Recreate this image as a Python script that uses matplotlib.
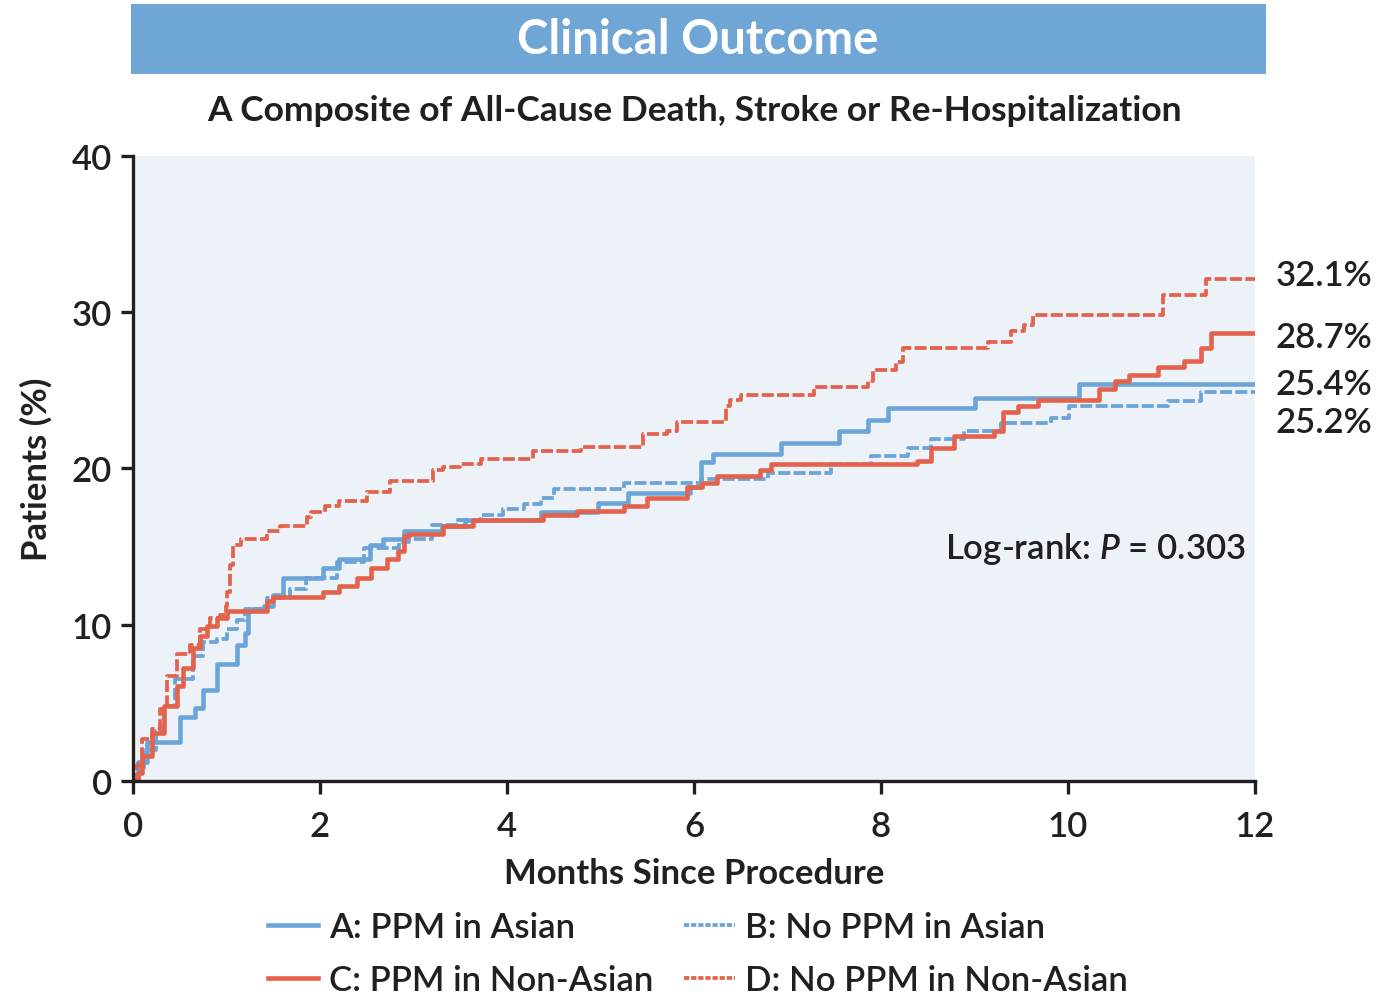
import matplotlib
matplotlib.use("Agg")
import matplotlib.pyplot as plt
from matplotlib.patches import Rectangle
from matplotlib.lines import Line2D

plt.rcParams['font.family'] = ['Lato', 'DejaVu Sans']
plt.rcParams['font.weight'] = 'semibold'
plt.rcParams['mathtext.fontset'] = 'custom'
plt.rcParams['mathtext.rm'] = 'Lato:semibold'
plt.rcParams['mathtext.it'] = 'Lato:italic:semibold'

# cumulative incidence (%), step changes at these months
a_months = [0, 0.05, 0.15, 0.5, 0.66, 0.75, 0.9, 1.11, 1.2, 1.23, 1.4, 1.5, 1.6, 2.03, 2.2, 2.54, 2.67,
            2.9, 3.3, 3.55, 4.36, 4.97, 5.29, 5.96, 6.07, 6.2, 6.93, 7.55, 7.86, 8.08, 9.01, 10.12, 12]
a_pct = [0, 1.2, 2.5, 4.1, 4.7, 5.8, 7.5, 8.7, 9.5, 11.0, 11.2, 11.9, 13.0, 13.6, 14.2, 15.1, 15.5,
         16.0, 16.3, 16.7, 17.2, 17.8, 18.4, 18.8, 20.4, 20.9, 21.6, 22.4, 23.1, 23.9, 24.5, 25.4, 25.4]

b_months = [0, 0.05, 0.12, 0.25, 0.33, 0.45, 0.64, 0.75, 0.9, 1.0, 1.11, 1.2, 1.43, 1.68, 1.85, 2.18,
            2.47, 2.85, 2.95, 3.2, 3.45, 3.72, 3.96, 4.18, 4.36, 4.5, 5.25, 6.07, 6.79, 7.46, 7.89,
            8.29, 8.53, 8.89, 9.28, 9.82, 10.01, 11.07, 11.42, 12]
b_pct = [0, 0.8, 2.0, 3.2, 4.8, 6.5, 8.0, 8.9, 9.1, 9.7, 10.3, 11.0, 11.7, 12.3, 13.0, 14.0,
         14.9, 15.3, 15.5, 16.4, 16.7, 17.0, 17.4, 17.7, 18.1, 18.7, 19.1, 19.3, 19.7, 20.3, 20.8,
         21.3, 21.9, 22.4, 22.9, 23.2, 24.0, 24.3, 24.9, 24.9]

c_months = [0, 0.05, 0.1, 0.2, 0.33, 0.47, 0.53, 0.64, 0.72, 0.79, 0.9, 1.0, 1.43, 1.5, 2.03, 2.2,
            2.4, 2.55, 2.72, 2.83, 2.9, 2.95, 3.32, 3.64, 4.39, 4.75, 5.25, 5.5, 5.93, 6.09, 6.25,
            6.71, 6.82, 8.39, 8.53, 8.78, 9.21, 9.31, 9.46, 9.68, 10.33, 10.5, 10.65, 10.96, 11.24,
            11.42, 11.53, 12]
c_pct = [0, 0.5, 1.6, 3.1, 4.8, 6.1, 7.2, 8.5, 9.3, 9.9, 10.4, 10.9, 11.5, 11.8, 12.1, 12.5,
         13.0, 13.6, 14.2, 14.7, 15.7, 15.8, 16.3, 16.7, 17.0, 17.3, 17.6, 18.1, 18.8, 19.1, 19.5,
         19.9, 20.3, 20.5, 21.3, 22.1, 22.4, 23.6, 24.0, 24.4, 25.1, 25.6, 26.0, 26.5, 26.9,
         27.7, 28.7, 28.7]

d_months = [0, 0.04, 0.1, 0.2, 0.29, 0.36, 0.47, 0.61, 0.72, 0.82, 0.93, 0.99, 1.0, 1.04, 1.07,
            1.15, 1.43, 1.57, 1.86, 1.9, 2.05, 2.2, 2.5, 2.75, 3.21, 3.32, 3.5, 3.72, 4.28, 4.79,
            5.45, 5.71, 5.82, 6.34, 6.39, 6.5, 7.28, 7.86, 7.91, 8.16, 8.23, 9.14, 9.39, 9.53,
            9.63, 11.02, 11.48, 12]
d_pct = [0, 1.0, 2.7, 3.3, 4.6, 6.7, 8.1, 8.7, 9.7, 10.4, 10.6, 11.2, 12.1, 13.8, 15.1,
         15.5, 16.0, 16.3, 16.9, 17.2, 17.6, 17.9, 18.5, 19.2, 19.9, 20.1, 20.3, 20.6, 21.1, 21.4,
         22.2, 22.4, 23.0, 24.0, 24.4, 24.7, 25.2, 25.6, 26.3, 26.8, 27.7, 28.1, 28.8, 29.2,
         29.8, 31.1, 32.1, 32.1]

labels = ['A: PPM in Asian', 'B: No PPM in Asian', 'C: PPM in Non-Asian', 'D: No PPM in Non-Asian']
end_labels = ['32.1%', '28.7%', '25.4%', '25.2%']
end_label_y = [32.4, 28.4, 25.4, 23.0]

blue = '#6AA4D8'
red = '#E4624B'
dark = '#231F20'
dash = (3.2, 0.9)

fig = plt.figure(figsize=(13.84, 9.95), dpi=100)
ax = fig.add_axes([0.0961, 0.2141, 0.8107, 0.6281])
ax.set_facecolor('#EDF2F9')

ax.step(a_months, a_pct, where='post', color=blue, lw=3.3)
ax.step(b_months, b_pct, where='post', color=blue, lw=2.7, dashes=dash)
ax.step(c_months, c_pct, where='post', color=red, lw=3.3)
ax.step(d_months, d_pct, where='post', color=red, lw=2.7, dashes=dash)

ax.set_xlim(0, 12)
ax.set_ylim(0, 40)
ax.set_xticks(range(0, 13, 2))
ax.set_yticks(range(0, 41, 10))
for s in ['top', 'right']:
    ax.spines[s].set_visible(False)
for s in ['left', 'bottom']:
    ax.spines[s].set_linewidth(2.4)
    ax.spines[s].set_color(dark)
ax.tick_params(length=9, width=2.4, colors=dark, labelsize=25)
ax.tick_params(axis='x', pad=12)
ax.tick_params(axis='y', pad=6)

ax.set_xlabel('Months Since Procedure', fontsize=25, fontweight='bold', color=dark, labelpad=11)
ax.set_ylabel('Patients (%)', fontsize=25, fontweight='bold', color=dark, labelpad=14)

for txt, y in zip(end_labels, end_label_y):
    ax.text(12.22, y, txt, fontsize=25, color=dark, va='center', ha='left', clip_on=False)

ax.text(11.9, 14.9, 'Log-rank: $P$ = 0.303', fontsize=25, color=dark, ha='right', va='center')

# title banner
fig.patches.append(Rectangle((0.0947, 0.9246), 0.82, 0.0704, transform=fig.transFigure,
                             facecolor='#6FA6D6', edgecolor='none'))
fig.text(0.504, 0.9595, 'Clinical Outcome', fontsize=34, fontweight='bold', color='white',
         ha='center', va='center')
fig.text(0.502, 0.888, 'A Composite of All-Cause Death, Stroke or Re-Hospitalization',
         fontsize=25.5, fontweight='bold', color=dark, ha='center', va='center')

handles = [Line2D([], [], color=blue, lw=3.3),
           Line2D([], [], color=red, lw=3.3),
           Line2D([], [], color=blue, lw=2.7, dashes=(1.4, 0.5)),
           Line2D([], [], color=red, lw=2.7, dashes=(1.4, 0.5))]
fig.legend(handles, [labels[0], labels[2], labels[1], labels[3]], ncol=2, frameon=False,
           loc='center left', bbox_to_anchor=(0.171, 0.0405), fontsize=25,
           handlelength=1.45, handletextpad=0.3, columnspacing=0.9, labelspacing=0.6,
           labelcolor=dark)

fig.savefig('out.png', dpi=100, facecolor='white')
